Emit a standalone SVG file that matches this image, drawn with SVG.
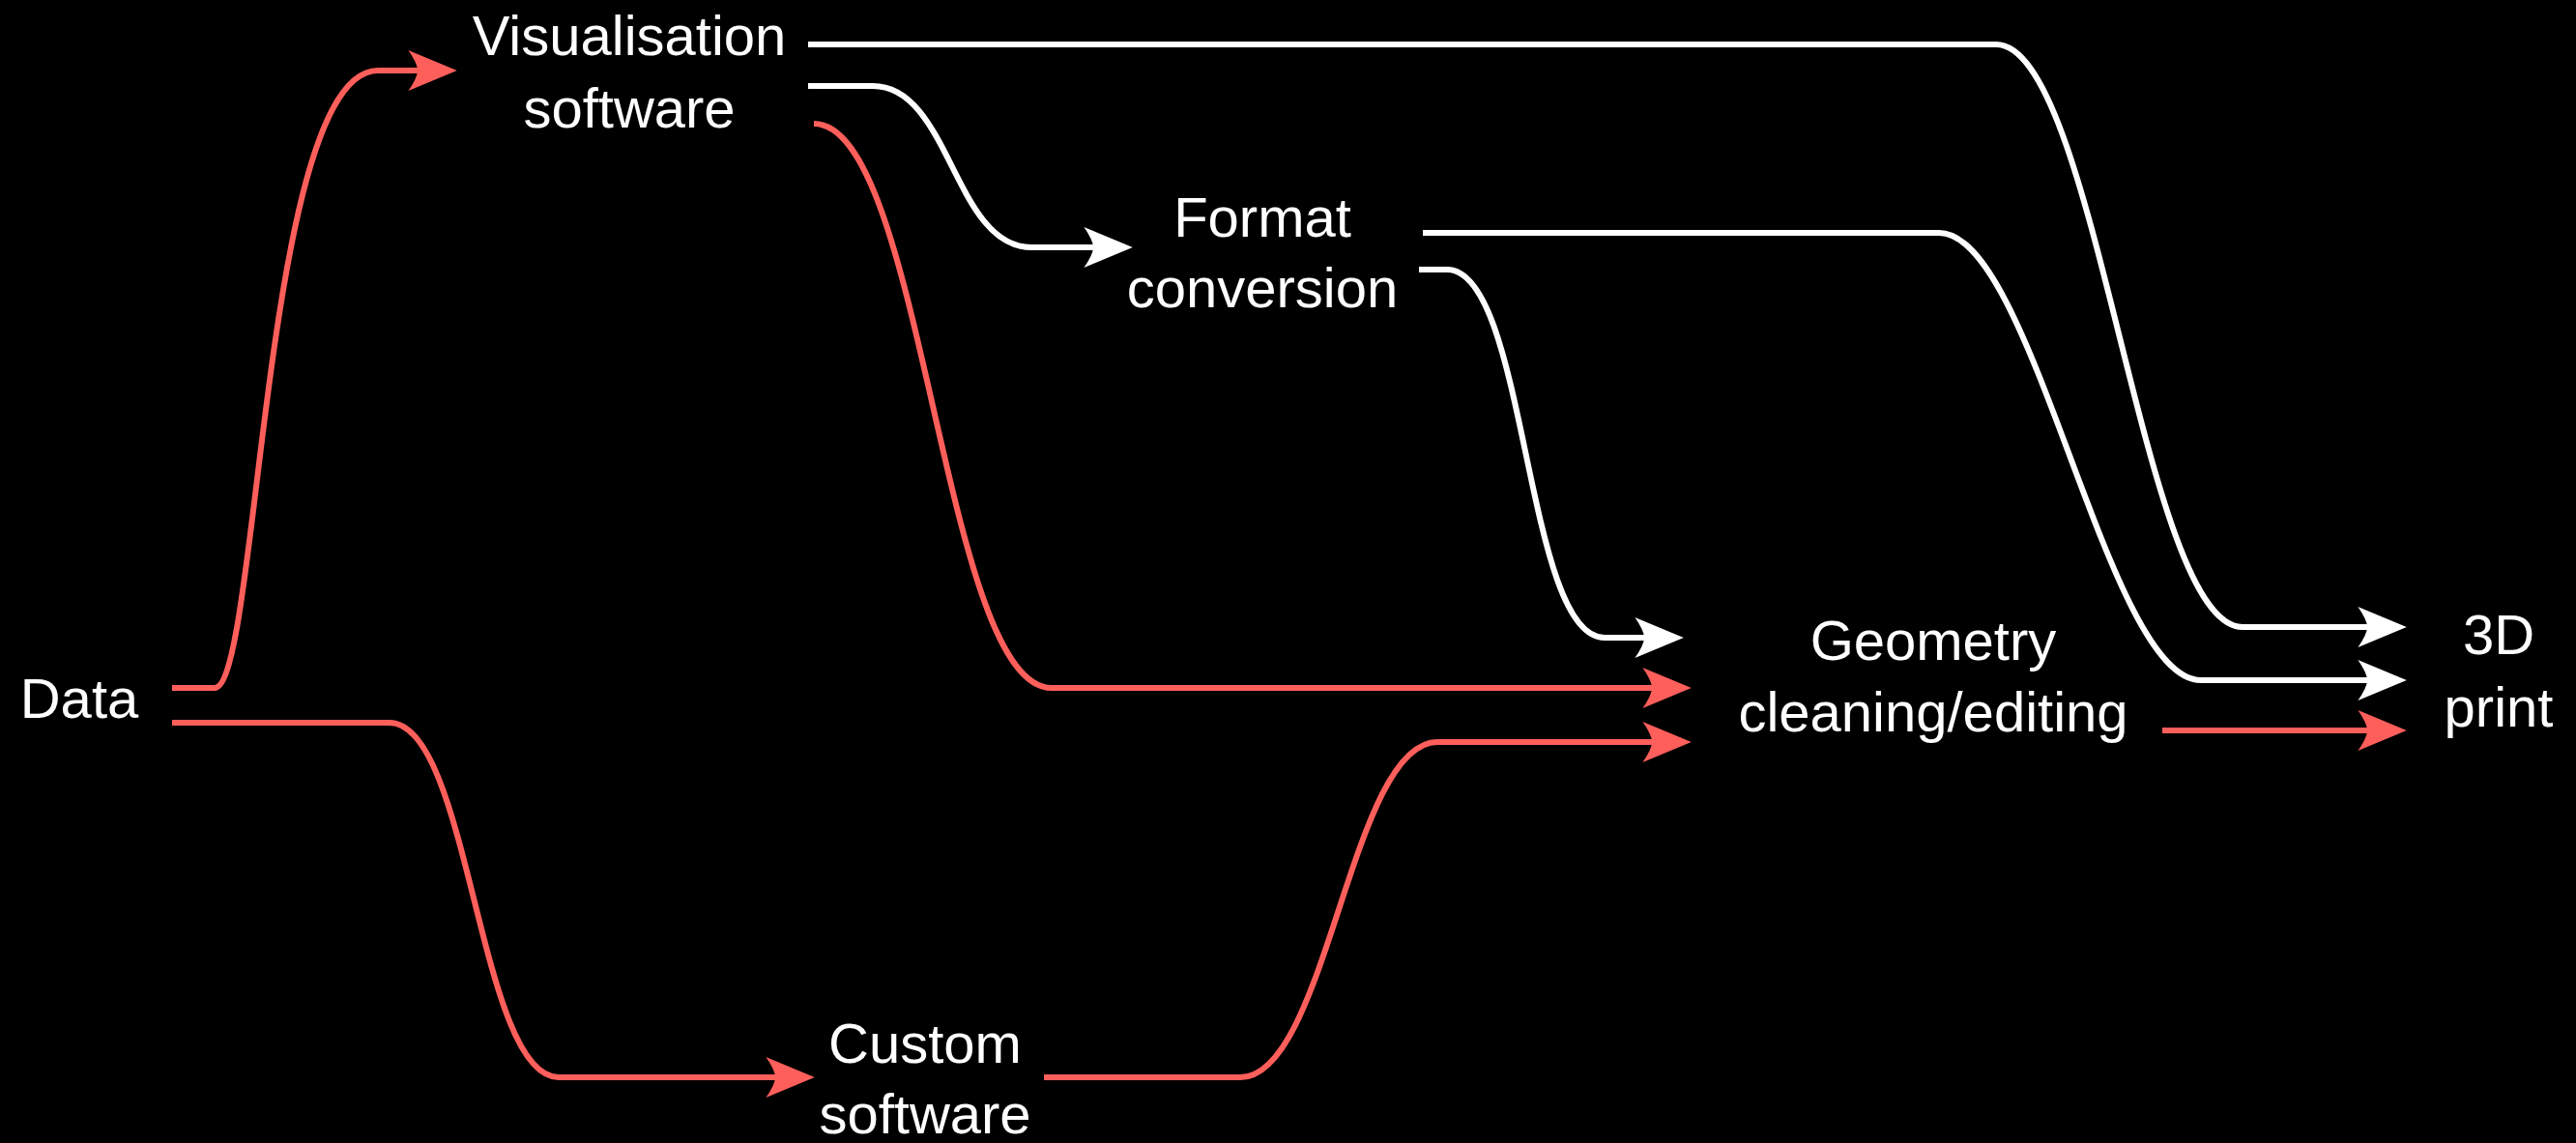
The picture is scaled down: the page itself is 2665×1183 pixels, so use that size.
<svg xmlns="http://www.w3.org/2000/svg" width="2665" height="1183" viewBox="0 0 2665 1183">
  <style>
    .lbl { font-family: "Liberation Sans", Arial, sans-serif; font-size: 58px; fill: #ffffff; text-anchor: middle; }
    .c { fill: none; stroke-width: 6; stroke-linejoin: round; }
    .red { stroke: #FF5F5B; }
    .wht { stroke: #FFFFFF; }
  </style>
  <defs>
    <marker id="ar" markerUnits="userSpaceOnUse" markerWidth="60" markerHeight="50" refX="0" refY="0" viewBox="-10 -20 50 40" orient="auto" overflow="visible">
      <path d="M34 0 L-8 -17.5 Q0 -6 0 0 Q0 6 -8 17.5 Z" fill="#FF5F5B"/>
    </marker>
    <marker id="aw" markerUnits="userSpaceOnUse" markerWidth="60" markerHeight="50" refX="0" refY="0" viewBox="-10 -20 50 40" orient="auto" overflow="visible">
      <path d="M34 0 L-8 -17.5 Q0 -6 0 0 Q0 6 -8 17.5 Z" fill="#FFFFFF"/>
    </marker>
  </defs>
  <rect x="0" y="0" width="2665" height="1183" fill="#000000"/>

  <g id="connectors">
    <path class="c red" d="M178 712 H222 C268 712 272 73 391 73 H432" marker-end="url(#ar)"/>
    <path class="c red" d="M178 748 H403 C486 748 495 1115 578 1115 H802" marker-end="url(#ar)"/>
    <path class="c wht" d="M836 46 H2065 C2169 46 2216 649 2320 649 H2449" marker-end="url(#aw)"/>
    <path class="c wht" d="M836 89 H903 C983 89 987 256 1067 256 H1131" marker-end="url(#aw)"/>
    <path class="c red" d="M842 128 C955 128 975 712 1088 712 H1709" marker-end="url(#ar)"/>
    <path class="c wht" d="M1472 241 H2006 C2104 241 2179 704 2277 704 H2449" marker-end="url(#aw)"/>
    <path class="c wht" d="M1468 279 H1497 C1580 279 1577 660 1660 660 H1701" marker-end="url(#aw)"/>
    <path class="c red" d="M1080 1115 H1283 C1373 1115 1397 768 1487 768 H1709" marker-end="url(#ar)"/>
    <path class="c red" d="M2237 756 H2449" marker-end="url(#ar)"/>
  </g>

  <g id="node-data">
    <text class="lbl" x="82" y="743">Data</text>
  </g>
  <g id="node-visualisation">
    <text class="lbl" x="651" y="57">Visualisation</text>
    <text class="lbl" x="651" y="132">software</text>
  </g>
  <g id="node-format">
    <text class="lbl" x="1306" y="245">Format</text>
    <text class="lbl" x="1306" y="318">conversion</text>
  </g>
  <g id="node-geometry">
    <text class="lbl" x="2000" y="683">Geometry</text>
    <text class="lbl" x="2000" y="757">cleaning/editing</text>
  </g>
  <g id="node-print">
    <text class="lbl" x="2585" y="677">3D</text>
    <text class="lbl" x="2585" y="752">print</text>
  </g>
  <g id="node-custom">
    <text class="lbl" x="957" y="1100">Custom</text>
    <text class="lbl" x="957" y="1173">software</text>
  </g>
</svg>
